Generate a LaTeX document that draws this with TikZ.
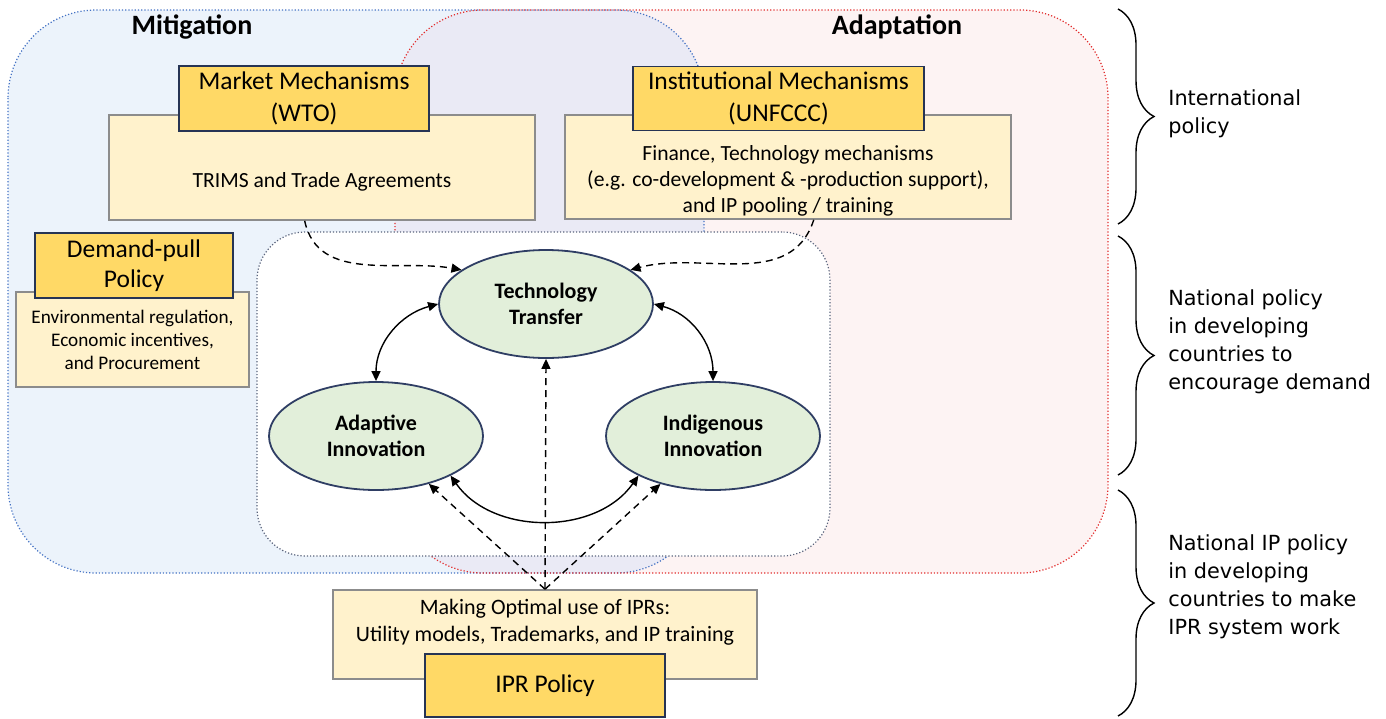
\documentclass[tikz,border=0pt]{standalone}
\usepackage{fontspec}
\setmainfont{Carlito}
\newfontfamily\sidefont{DejaVu Sans}
\usetikzlibrary{shapes.geometric,arrows.meta,decorations.pathreplacing,positioning}

\definecolor{mitfill}{RGB}{236,243,251}
\definecolor{mitline}{RGB}{68,114,196}
\definecolor{adafill}{RGB}{253,243,243}
\definecolor{adaline}{RGB}{226,45,45}
\definecolor{bothfill}{RGB}{234,234,245}
\definecolor{headfill}{RGB}{255,217,102}
\definecolor{headline}{RGB}{38,52,84}
\definecolor{bodyfill}{RGB}{255,242,204}
\definecolor{bodyline}{RGB}{140,140,140}
\definecolor{ovalfill}{RGB}{226,239,218}
\definecolor{ovalline}{RGB}{47,62,100}
\definecolor{hubline}{RGB}{90,100,125}

\tikzset{
  headbox/.style={draw=headline, fill=headfill, line width=0.8pt, align=center, inner sep=0pt,
    font=\fontsize{12.75}{16}\selectfont},
  bodybox/.style={draw=bodyline, fill=bodyfill, line width=0.8pt, inner sep=0pt},
  bodytext/.style={align=center, inner sep=0pt, font=\fontsize{10.8}{13}\selectfont},
  oval/.style={ellipse, draw=ovalline, fill=ovalfill, line width=0.9pt, inner sep=0pt,
    minimum width=107pt, minimum height=54pt, align=center, font=\bfseries\fontsize{11}{13}\selectfont},
  region/.style={densely dotted, line width=0.6pt, rounded corners=44pt},
  hub/.style={draw=hubline, densely dotted, line width=0.6pt, fill=white, rounded corners=24pt},
  title/.style={font=\bfseries\fontsize{14}{16}\selectfont},
  flow/.style={->, line width=0.7pt, dash pattern=on 3.5pt off 2.5pt},
  link/.style={<->, line width=0.7pt},
  sidetext/.style={anchor=west, align=left, inner sep=0pt, font=\sidefont\fontsize{10.4}{14}\selectfont},
  sidebrace/.style={decorate, decoration={brace, amplitude=18pt}, line width=0.7pt}
}

\begin{document}
\begin{tikzpicture}[x=0.5pt, y=-0.5pt, >={Triangle[length=5pt,width=4.5pt]}]
  \useasboundingbox (0,0) rectangle (1386,718);

  % Mitigation and Adaptation areas, with their overlap
  \fill[mitfill, rounded corners=44pt] (8,10) rectangle (704,573);
  \fill[adafill, rounded corners=44pt] (395,10) rectangle (1108,573);
  \begin{scope}
    \clip[rounded corners=44pt] (8,10) rectangle (704,573);
    \fill[bothfill, rounded corners=44pt] (395,10) rectangle (1108,573);
  \end{scope}
  \draw[region, mitline] (8,10) rectangle (704,573);
  \draw[region, adaline] (395,10) rectangle (1108,573);

  \node[title] (mitlabel) at (192,27) {Mitigation};
  \node[title] (adalabel) at (897,27) {Adaptation};

  % inner area around the three innovation paths
  \node[hub, minimum width=286.5pt, minimum height=162pt] (hub) at (543.5,394) {};

  % Market mechanisms
  \node[bodybox, minimum width=213pt, minimum height=52.5pt] (mktbody) at (322,167.5) {};
  \node[bodytext] (trims) at (322,182) {TRIMS and Trade Agreements};
  \node[headbox, minimum width=125pt, minimum height=32.5pt] (mkthead) at (304,98.5) {Market Mechanisms\\(WTO)};

  % Institutional mechanisms
  \node[bodybox, minimum width=223pt, minimum height=52pt] (instbody) at (788,167) {};
  \node[bodytext] (instnote) at (788,181) {Finance, Technology mechanisms\\(e.g. co-development \& -production support),\\and IP pooling / training};
  \node[headbox, minimum width=145.5pt, minimum height=32pt] (insthead) at (778.5,98.5) {Institutional Mechanisms\\(UNFCCC)};

  % Demand-pull policy
  \node[bodybox, minimum width=116.5pt, minimum height=47.5pt] (dembody) at (132.5,339.5) {};
  \node[bodytext, font=\fontsize{9.6}{11.5}\selectfont] (demnote) at (132.5,340) {Environmental regulation,\\Economic incentives,\\and Procurement};
  \node[headbox, minimum width=99pt, minimum height=32.5pt, font=\fontsize{12.75}{15}\selectfont] (demhead) at (134,265.5) {Demand-pull\\Policy};

  % IPR policy
  \node[bodybox, minimum width=212pt, minimum height=44.5pt] (iprbody) at (545,634.5) {};
  \node[bodytext, font=\fontsize{11}{13.5}\selectfont] (iprnote) at (545,622.5) {Making Optimal use of IPRs:\\Utility models, Trademarks, and IP training};
  \node[headbox, minimum width=120pt, minimum height=31.5pt] (iprhead) at (545,685.5) {IPR Policy};

  % innovation paths
  \node[oval] (tt) at (546,304) {Technology\\Transfer};
  \node[oval] (ad) at (376,436) {Adaptive\\Innovation};
  \node[oval] (ind) at (713,436) {Indigenous\\Innovation};

  \draw[link] (tt.west) to[out=195,in=90] (ad.north);
  \draw[link] (tt.east) to[out=-15,in=90] (ind.north);
  \draw[link] (ad.-28) to[out=-55,in=-125] (ind.-152);

  % policy influence
  \draw[flow] (mktbody.-108) to[out=-78,in=170] (tt.158);
  \draw[flow] (instbody.-64) to[out=-108,in=15] (tt.22);
  \draw[flow] (iprbody.north) -- (tt.south);
  \draw[flow] (iprbody.north) -- (ad);
  \draw[flow] (iprbody.north) -- (ind);

  % policy levels
  \draw[sidebrace] (1118,9) -- (1118,224);
  \draw[sidebrace] (1118,236) -- (1118,475);
  \draw[sidebrace] (1118,490) -- (1118,716);
  \node[sidetext] (intl) at (1168,114) {International\\policy};
  \node[sidetext] (natl) at (1168,342) {National policy\\in developing\\countries to\\encourage demand};
  \node[sidetext] (natip) at (1168,587) {National IP policy\\in developing\\countries to make\\IPR system work};
\end{tikzpicture}
\end{document}
